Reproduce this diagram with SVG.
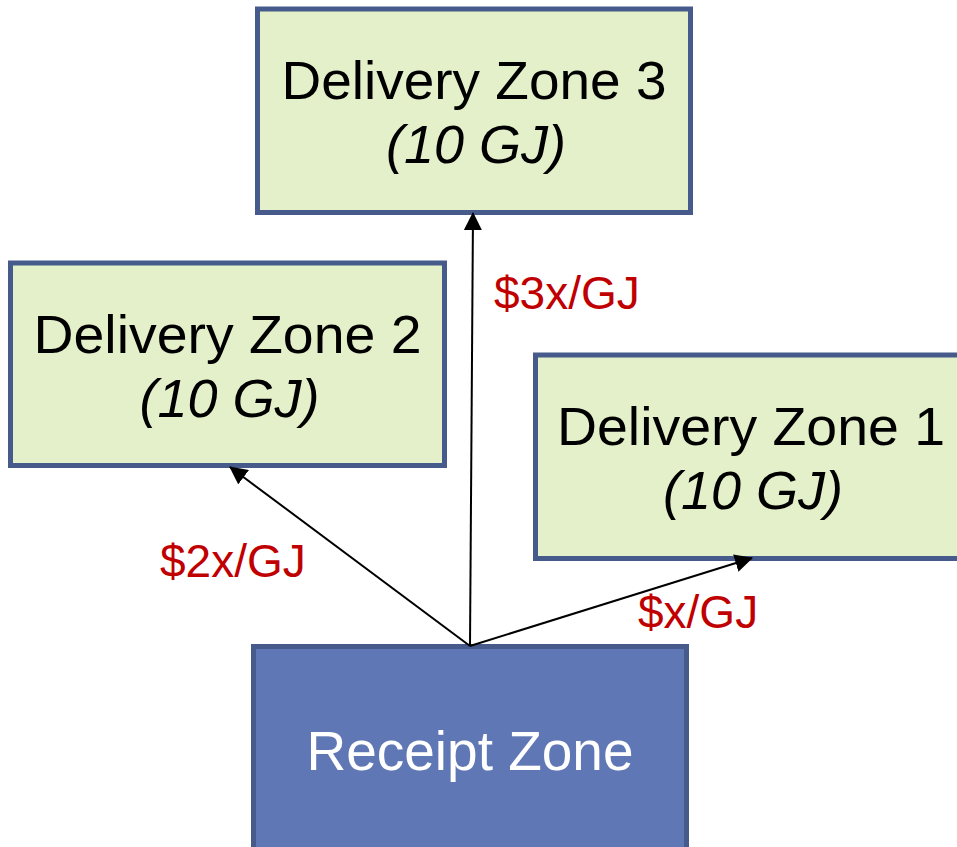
<svg xmlns="http://www.w3.org/2000/svg" width="957" height="847" viewBox="0 0 957 847">
<defs>
<style>
.dz{fill:#e3f0c9;stroke:#475a8c;stroke-width:5}
.rz{fill:#5f77b4;stroke:#475a8c;stroke-width:5}
.t{font-family:"Liberation Sans",Arial,sans-serif;font-size:54px;fill:#000;text-anchor:middle}
.ti{font-family:"Liberation Sans",Arial,sans-serif;font-size:54px;font-style:italic;fill:#000;text-anchor:middle}
.tw{font-family:"Liberation Sans",Arial,sans-serif;font-size:55px;fill:#fff;text-anchor:middle}
.lb{font-family:"Liberation Sans",Arial,sans-serif;font-size:46px;fill:#c00000}
.c{stroke:#000;stroke-width:2;fill:none;marker-end:url(#ah)}
</style>
<marker id="ah" markerWidth="9" markerHeight="9" refX="8.5" refY="4.5" orient="auto" markerUnits="strokeWidth">
<path d="M0,0 L9,4.5 L0,9 Z" fill="#000"/>
</marker>
</defs>
<rect width="957" height="847" fill="#fff"/>
<g id="zone3">
<rect class="dz" x="257.5" y="9" width="433" height="203.5"/>
<text class="t" x="474" y="99" textLength="385" lengthAdjust="spacingAndGlyphs">Delivery Zone 3</text>
<text class="ti" x="476" y="163">(10 GJ)</text>
</g>
<g id="zone2">
<rect class="dz" x="10.5" y="263" width="434" height="202.5"/>
<text class="t" x="227.5" y="353" textLength="388" lengthAdjust="spacingAndGlyphs">Delivery Zone 2</text>
<text class="ti" x="229.5" y="417">(10 GJ)</text>
</g>
<g id="zone1">
<rect class="dz" x="535.5" y="355" width="434" height="203.5"/>
<text class="t" x="751" y="445" textLength="388" lengthAdjust="spacingAndGlyphs">Delivery Zone 1</text>
<text class="ti" x="753" y="509">(10 GJ)</text>
</g>
<g id="receipt">
<rect class="rz" x="253.5" y="646.5" width="433" height="240"/>
<text class="tw" x="470" y="770">Receipt Zone</text>
</g>
<g id="connectors">
<line class="c" x1="470" y1="646" x2="473" y2="213"/>
<line class="c" x1="470" y1="646" x2="230" y2="467"/>
<line class="c" x1="470" y1="646" x2="752" y2="558"/>
</g>
<g id="labels">
<text class="lb" x="494" y="309">$3x/GJ</text>
<text class="lb" x="160" y="577">$2x/GJ</text>
<text class="lb" x="638" y="628">$x/GJ</text>
</g>
</svg>
